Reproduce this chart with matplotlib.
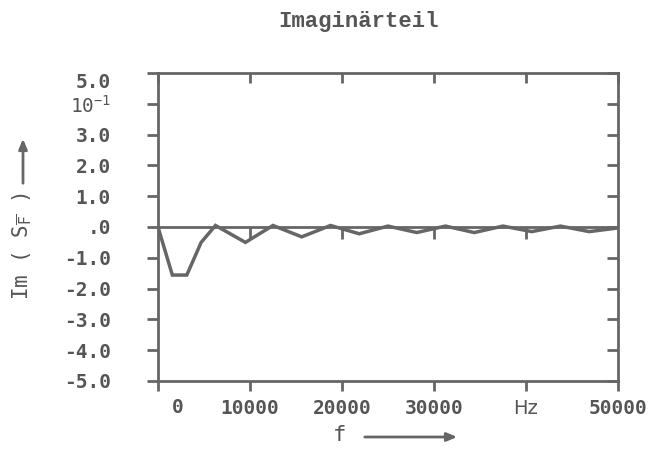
import matplotlib
matplotlib.use("Agg")
import matplotlib.pyplot as plt

# ---- data ----
freq = [0, 1560, 3130, 4690, 6250, 9500, 12500, 15625, 18750, 21875,
        25000, 28125, 31250, 34375, 37500, 40625, 43750, 46875, 50000]
im_sf = [0.0, -1.56, -1.56, -0.50, 0.05, -0.50, 0.05, -0.32, 0.05, -0.22,
         0.03, -0.18, 0.03, -0.18, 0.03, -0.15, 0.03, -0.15, -0.03]

x_ticks = [0, 10000, 20000, 30000, 40000, 50000]
x_tick_labels = ["", "10000", "20000", "30000", "Hz", "50000"]
y_ticks = [5, 4, 3, 2, 1, 0, -1, -2, -3, -4, -5]
y_tick_labels = ["5.0", r"$10^{-1}$", "3.0", "2.0", "1.0", ".0",
                 "-1.0", "-2.0", "-3.0", "-4.0", "-5.0"]
title = "Imaginärteil"
ylabel = r"Im ( S$_{\overline{\mathrm{F}}}$ )"
xlabel = "f"

INK = "#555555"
LINE = "#666666"
mono = "DejaVu Sans Mono"
plt.rcParams["mathtext.fontset"] = "custom"
plt.rcParams["mathtext.rm"] = mono
plt.rcParams["mathtext.it"] = mono
plt.rcParams["mathtext.bf"] = mono + ":bold"

fig = plt.figure(figsize=(6.7, 4.5), dpi=100)
ax = fig.add_axes([158/670, 1-381/450, (618-158)/670, (381-73)/450])

ax.plot(freq, im_sf, color=LINE, lw=2.5, solid_joinstyle="miter", zorder=3)
ax.axhline(0, color=LINE, lw=2.0, zorder=2)
# small downward ticks on the zero line
ax.vlines(x_ticks[1:-1], -0.4, 0, color=LINE, lw=2.0, zorder=2)

ax.set_xlim(0, 50000)
ax.set_ylim(-5, 5)
for s in ax.spines.values():
    s.set_color(LINE)
    s.set_linewidth(2.0)

ax.set_xticks(x_ticks)
ax.set_xticklabels(x_tick_labels, fontfamily=mono, fontweight="bold",
                   fontsize=14, color=INK)
ax.set_yticks(y_ticks)
ax.set_yticklabels(y_tick_labels, fontfamily=mono, fontweight="bold",
                   fontsize=14, color=INK)
for lab in ax.get_xticklabels():
    if lab.get_text() == "Hz":
        lab.set_fontfamily("DejaVu Sans")
        lab.set_fontweight("normal")

ax.tick_params(axis="x", which="both", direction="out", length=7, width=2,
               color=LINE, top=True, pad=6)
ax.tick_params(axis="y", which="both", direction="out", length=8, width=2,
               color=LINE, right=True, pad=26)
for t in ax.xaxis.get_major_ticks():
    t.tick2line.set_marker(matplotlib.lines.TICKDOWN)
for t in ax.yaxis.get_major_ticks():
    t.tick2line.set_marker(matplotlib.lines.TICKLEFT)
ax.get_yticklabels()[0].set_verticalalignment("top")

# the "0" label of the f axis sits to the right of the spine
ax.text(x_ticks[0] + 2200, -5.55, "0", transform=ax.transData,
        fontfamily=mono, fontweight="bold", fontsize=14, color=INK,
        ha="center", va="top")

fig.text(0.535, 1-22/450, title, ha="center", va="center",
         fontfamily="Liberation Mono", fontweight="bold", fontsize=16, color=INK)

fig.text(23/670, 1-246/450, ylabel, rotation=90, ha="center", va="center",
         fontfamily=mono, fontsize=15, color=INK)
fig.add_artist(matplotlib.patches.FancyArrowPatch(
    (23/670, 1-186/450), (23/670, 1-136/450), transform=fig.transFigure,
    arrowstyle="-|>,head_length=6,head_width=2.5", color=LINE, lw=2))

fig.text(340/670, 1-435/450, xlabel, ha="center", va="center",
         fontfamily=mono, fontsize=16, color=INK)
fig.add_artist(matplotlib.patches.FancyArrowPatch(
    (362/670, 1-437/450), (460/670, 1-437/450), transform=fig.transFigure,
    arrowstyle="-|>,head_length=6,head_width=2.5", color=LINE, lw=2))

fig.savefig("out.png", dpi=100, facecolor="white")
